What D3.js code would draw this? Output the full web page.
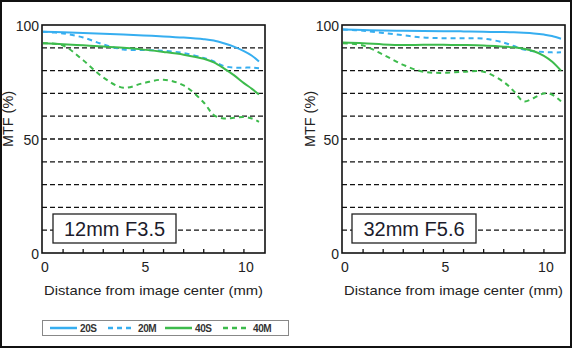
<!DOCTYPE html>
<html><head><meta charset="utf-8">
<script src="https://cdn.jsdelivr.net/npm/d3@7"></script>
<style>html,body{margin:0;padding:0;background:#fff;}svg{display:block;font-family:"Liberation Sans",Arial,sans-serif;}</style>
</head><body>
<svg id="c" width="573" height="349"></svg>
<script>
// ---- data ----
const seriesNames = ["20S", "20M", "40S", "40M"];
const leftTitle = "12mm F3.5";
const rightTitle = "32mm F5.6";
const leftX = [0, 1, 2, 3, 4, 5, 6, 7, 8, 8.5, 9, 9.5, 10, 10.4, 10.75];
const left20S = [97, 96.8, 96.5, 96.2, 95.8, 95.4, 95, 94.5, 93.8, 93.2, 92, 90.5, 88.5, 86.5, 84];
const left20M = [97, 96.3, 94.5, 91.5, 89.3, 89, 88.7, 87.7, 85.5, 84, 82, 81.3, 81.3, 81.3, 81];
const left40S = [92, 91.6, 91.1, 90.6, 90, 89.2, 88.2, 87, 85.2, 83.6, 81, 78, 74.5, 72, 69.5];
const left40M = [92, 91, 84.5, 77, 72.5, 74.5, 76, 73.5, 66, 60.5, 59, 59.3, 59.6, 59, 57.5];
const rightX = [0, 1, 2, 3, 4, 5, 6, 7, 8, 8.5, 9, 9.5, 10, 10.4, 10.85];
const right20S = [98, 97.8, 97.6, 97.5, 97.4, 97.3, 97.2, 97, 96.9, 96.8, 96.6, 96.3, 95.8, 95.2, 94];
const right20M = [98, 97.5, 96.5, 95.5, 94.5, 94.2, 94.2, 94, 92.3, 90.8, 89.2, 88.5, 88.2, 88, 88];
const right40S = [92.3, 92, 91.5, 91.2, 91.3, 91.3, 91.2, 91, 90.5, 90.2, 89.6, 88.5, 86.5, 84, 80];
const right40M = [92, 91, 87, 82.5, 79.5, 79, 79.5, 79.5, 75, 71, 66.5, 68, 70, 69.5, 66.5];
const yTickLabels = [0, 50, 100];
const gridValues = [10, 20, 30, 40, 50, 60, 70, 80, 90];
const xTickLabels = [0, 5, 10];
const xMinorTicks = [1, 2, 3, 4, 5, 6, 7, 8, 9, 10];

// ---- styles ----
const colors = {"20S": "#36aef0", "20M": "#36aef0", "40S": "#3dbb4c", "40M": "#3dbb4c"};
const dashes = {"20S": null, "20M": "5,4", "40S": null, "40M": "5,4"};

const svg = d3.select("#c");
svg.append("rect").attr("x", 1).attr("y", 1).attr("width", 570).attr("height", 346)
  .attr("fill", "#fff").attr("stroke", "#111").attr("stroke-width", 2);

function panel(x0, frameL, frameR, xs, data, title, ylabX, boxL, boxR) {
  const x = d3.scaleLinear().domain([0, 11]).range([x0, x0 + 221]);
  const y = d3.scaleLinear().domain([0, 100]).range([253, 25]);
  const g = svg.append("g");
  g.selectAll("line.grid").data(gridValues).join("line")
    .attr("x1", frameL).attr("x2", frameR)
    .attr("y1", d => y(d)).attr("y2", d => y(d))
    .attr("stroke", "#111").attr("stroke-width", 1.3).attr("stroke-dasharray", "5,3");
  const line = d3.line().x(d => x(d[0])).y(d => y(d[1])).curve(d3.curveCatmullRom.alpha(0.5));
  seriesNames.forEach((s, i) => {
    const pts = xs.map((v, j) => [v, data[i][j]]);
    g.append("path").attr("d", line(pts)).attr("fill", "none")
      .attr("stroke", colors[s]).attr("stroke-width", 2)
      .attr("stroke-dasharray", dashes[s]);
  });
  g.append("rect").attr("x", frameL).attr("y", y(100)).attr("width", frameR - frameL)
    .attr("height", y(0) - y(100)).attr("fill", "none").attr("stroke", "#111").attr("stroke-width", 1.6);
  g.selectAll("line.tk").data(xMinorTicks).join("line")
    .attr("x1", d => x(d)).attr("x2", d => x(d))
    .attr("y1", y(0)).attr("y2", y(0) - 4)
    .attr("stroke", "#111").attr("stroke-width", 1.3);
  g.selectAll("text.yl").data(yTickLabels).join("text")
    .attr("x", frameL - 3).attr("y", d => y(d) + 1).attr("dy", "0.35em")
    .attr("text-anchor", "end").attr("font-size", 14).attr("fill", "#222").text(d => d);
  g.selectAll("text.xl").data(xTickLabels).join("text")
    .attr("x", d => x(d) + 2).attr("y", 272)
    .attr("text-anchor", "middle").attr("font-size", 14).attr("fill", "#222").text(d => d);
  g.append("text").attr("x", (frameL + frameR) / 2).attr("y", 295)
    .attr("text-anchor", "middle").attr("font-size", 13.5).attr("fill", "#222")
    .attr("textLength", 219).attr("lengthAdjust", "spacingAndGlyphs")
    .text("Distance from image center (mm)");
  g.append("text").attr("transform", `translate(${ylabX},119) rotate(-90)`)
    .attr("text-anchor", "middle").attr("font-size", 14).attr("fill", "#222")
    .attr("textLength", 56).attr("lengthAdjust", "spacingAndGlyphs").text("MTF (%)");
  g.append("rect").attr("x", boxL).attr("y", 214).attr("width", boxR - boxL).attr("height", 29)
    .attr("fill", "#fff").attr("stroke", "#222").attr("stroke-width", 1.3);
  g.append("text").attr("x", (boxL + boxR) / 2).attr("y", 229).attr("dy", "0.36em")
    .attr("text-anchor", "middle").attr("font-size", 20).attr("fill", "#1c1c2c").text(title);
}

panel(43, 42, 265, leftX, [left20S, left20M, left40S, left40M], leftTitle, 13, 53, 176);
panel(343, 342, 565, rightX, [right20S, right20M, right40S, right40M], rightTitle, 315, 352, 476);

const lg = svg.append("g");
lg.append("rect").attr("x", 42.5).attr("y", 320.5).attr("width", 246).attr("height", 15)
  .attr("fill", "#fff").attr("stroke", "#888").attr("stroke-width", 1);
const legX = [50, 108, 165, 223];
seriesNames.forEach((s, i) => {
  lg.append("line").attr("x1", legX[i]).attr("x2", legX[i] + 27).attr("y1", 328).attr("y2", 328)
    .attr("stroke", colors[s]).attr("stroke-width", 2.5).attr("stroke-dasharray", dashes[s]);
  lg.append("text").attr("x", legX[i] + 30).attr("y", 328).attr("dy", "0.36em")
    .attr("font-size", 10).attr("font-weight", "bold").attr("letter-spacing", -0.4)
    .attr("fill", "#333").text(s);
});
</script>
</body></html>
